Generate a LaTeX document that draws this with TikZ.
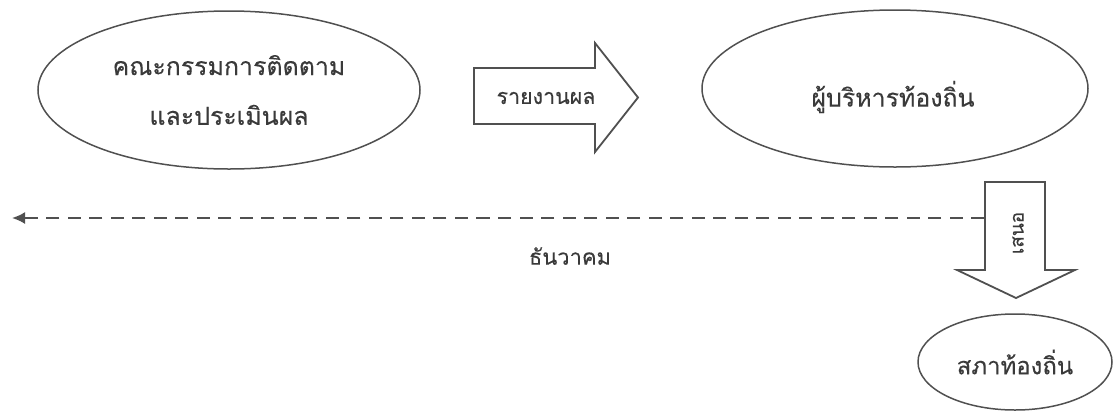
\documentclass[tikz,border=0pt]{standalone}
\usepackage{fontspec}
\newfontfamily\thaifont[Script=Thai,FakeBold=0.3]{Loma}
\usetikzlibrary{shapes.geometric,arrows.meta}
\definecolor{linegray}{HTML}{505050}
\definecolor{textgray}{HTML}{3A3A3A}
\begin{document}
\begin{tikzpicture}[x=1bp,y=-1bp,
  oval/.style={ellipse, draw=linegray, line width=1.5bp, inner sep=0pt, align=center, text=textgray},
  blockarrow/.style={draw=linegray, line width=1.8bp, fill=white, line join=miter},
  lbl/.style={inner sep=0pt, text=textgray},
  dashline/.style={draw=linegray, line width=2bp, dash pattern=on 13bp off 8.5bp, -{Latex[length=13bp,width=12bp]}},
]
\useasboundingbox (0,0) rectangle (1114,413);
% ellipses
\node[oval, minimum width=382bp, minimum height=158bp, font={\thaifont\fontsize{25}{50}\selectfont}] (kk) at (229,90)
  {คณะกรรมการติดตาม\\และประเมินผล};
\node[oval, minimum width=386bp, minimum height=157bp] (pb) at (895,88.5) {};
\node[lbl, font={\thaifont\fontsize{25}{30}\selectfont}] (pbt) at (893,97) {ผู้บริหารท้องถิ่น};
\node[oval, minimum width=194bp, minimum height=96bp, font={\thaifont\fontsize{24}{28}\selectfont}] (sp) at (1015,362) {สภาท้องถิ่น};
% block arrow right
\draw[blockarrow] (474,68) -- (595,68) -- (595,43) -- (638,97.5) -- (595,152) -- (595,124) -- (474,124) -- cycle;
\node[lbl, font={\thaifont\fontsize{21.5}{26}\selectfont}] (rp) at (546,98) {รายงานผล};
% block arrow down
\draw[blockarrow] (985,182) -- (1045,182) -- (1045,270) -- (1075,270) -- (1016,298) -- (957,270) -- (985,270) -- cycle;
\node[lbl, rotate=90, font={\thaifont\fontsize{19}{23}\selectfont}] (sn) at (1018,233) {เสนอ};
% dashed timeline
\coordinate (dstart) at (984,218);
\coordinate (dend) at (12,218);
\draw[dashline] (dstart) -- (dend);
\node[lbl, font={\thaifont\fontsize{22}{26}\selectfont}] (dec) at (570,256) {ธันวาคม};
\end{tikzpicture}
\end{document}
